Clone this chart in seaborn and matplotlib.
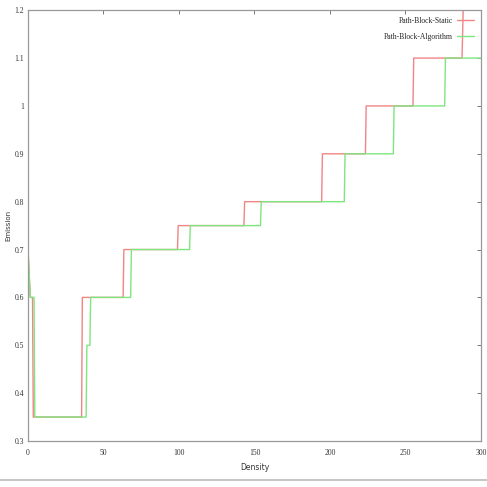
import numpy as np
import pandas as pd
import seaborn as sns
from matplotlib import pyplot as plt
from matplotlib.lines import Line2D

# corner points of the two step curves
static_x = [0, 1.5, 3, 3.5, 35.5, 36, 63, 63.5, 99, 99.5, 143, 143.5, 194.5, 195,
            223.5, 224, 255, 255.5, 287.5, 289]
static_y = [0.7, 0.6, 0.6, 0.35, 0.35, 0.6, 0.6, 0.7, 0.7, 0.75, 0.75, 0.8, 0.8, 0.9,
            0.9, 1.0, 1.0, 1.1, 1.1, 1.3]

algo_x = [0, 1.5, 4, 4.5, 38.5, 39, 41, 41.5, 68, 68.5, 107, 107.5, 154, 154.5,
          209.5, 210, 242, 242.5, 276, 276.5, 300]
algo_y = [0.7, 0.6, 0.6, 0.35, 0.35, 0.5, 0.5, 0.6, 0.6, 0.7, 0.7, 0.75, 0.75, 0.8,
          0.8, 0.9, 0.9, 1.0, 1.0, 1.1, 1.1]

x_ticks = [0, 50, 100, 150, 200, 250, 300]
y_ticks = [0.3, 0.4, 0.5, 0.6, 0.7, 0.8, 0.9, 1.0, 1.1, 1.2]
y_labels = ['0.3', '0.4', '0.5', '0.6', '0.7', '0.8', '0.9', '1', '1.1', '1.2']

df = pd.concat([
    pd.DataFrame({'Density': static_x, 'Emission': static_y, 'series': 'Path-Block-Static'}),
    pd.DataFrame({'Density': algo_x, 'Emission': algo_y, 'series': 'Path-Block-Algorithm'}),
])

sns.set_style('white')
plt.rcParams['font.family'] = ['Liberation Serif', 'DejaVu Serif']

fig = plt.figure(figsize=(4.87, 4.87), dpi=100)
ax = fig.add_axes([0.0575, 0.0945, 0.93, 0.8845])

sns.lineplot(data=df, x='Density', y='Emission', hue='series', sort=False,
             estimator=None, palette=['#f08585', '#7fe67f'], linewidth=1.0, ax=ax)

ax.set_xlim(0, 300)
ax.set_ylim(0.3, 1.2)
ax.set_xticks(x_ticks)
ax.set_yticks(y_ticks)
ax.set_yticklabels(y_labels)
ax.tick_params(direction='in', length=3, width=0.7, color='#777777',
               labelsize=5.5, labelcolor='#333333', top=True, right=True)
ax.tick_params(axis='y', pad=3)
ax.tick_params(axis='x', pad=6)
for s in ax.spines.values():
    s.set_color('#999999')
    s.set_linewidth(0.9)
ax.set_xlabel('Density', fontsize=5.5, color='#333333', family='DejaVu Sans')
ax.set_ylabel('Emission', fontsize=5, color='#333333', family='DejaVu Sans', labelpad=2)

ax.legend(loc='upper right', frameon=False, fontsize=5.5, markerfirst=False,
          handlelength=2.2, handletextpad=0.6, borderaxespad=0.5, labelspacing=1.0)

fig.add_artist(Line2D([0, 1], [0.015, 0.015], color='#bbbbbb', linewidth=1.2))

plt.savefig('out.png', dpi=100)
